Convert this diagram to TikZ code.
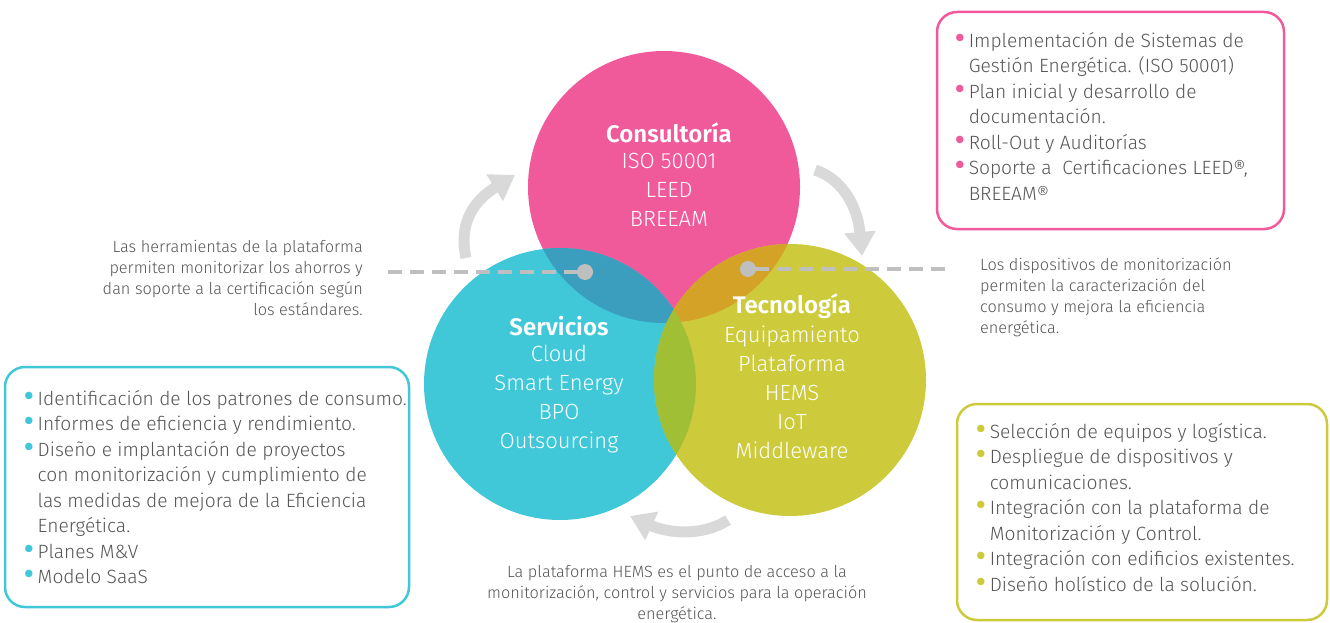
\documentclass[tikz,border=0pt]{standalone}
\usepackage{fontspec}
\setmainfont{Fira Sans}[UprightFont={* Light},BoldFont={* SemiBold}]
\usetikzlibrary{arrows.meta}

\definecolor{pinkc}{HTML}{F05A9B}
\definecolor{cyanc}{HTML}{40C8D9}
\definecolor{yelc}{HTML}{CDCB3C}
\definecolor{pinkcyan}{HTML}{3B9EBE}
\definecolor{pinkyel}{HTML}{D4A226}
\definecolor{cyanyel}{HTML}{A0BF34}
\definecolor{txtgray}{HTML}{555555}
\definecolor{arrgray}{HTML}{D9D9D9}
\definecolor{dashgray}{HTML}{BFBFBF}

\tikzset{
  circtitle/.style={text=white, font=\bfseries\fontsize{24}{29}\selectfont, inner sep=0pt},
  circitems/.style={text=white, font=\fontsize{22}{29}\selectfont, align=center, inner sep=0pt},
  notetext/.style={text=txtgray, font=\fontsize{16.3}{21}\selectfont, inner sep=0pt},
  listbox/.style={draw=#1, line width=2.5pt, rounded corners=20pt},
  listtext/.style={text=txtgray, font=\fontsize{19.2}{25.5}\selectfont, inner sep=0pt, anchor=north west},
  dashline/.style={dashgray, line width=4pt, dash pattern=on 14pt off 8pt},
  turn/.style={arrgray, line width=11pt, -{Triangle[length=24pt, width=30pt]}}
}
\newcommand{\bl}[1]{\textcolor{#1}{\bfseries\fontsize{28}{0}\selectfont\textbullet}}

\begin{document}
\begin{tikzpicture}[x=1pt, y=-1pt]
\useasboundingbox (0,0) rectangle (1330,623);

% circles
\coordinate (cons) at (664,187);
\coordinate (serv) at (560,384);
\coordinate (tecn) at (790,380);
\fill[pinkc] (cons) circle (136);
\fill[cyanc] (serv) circle (136);
\fill[yelc] (tecn) circle (136);

% overlaps
\begin{scope}
  \clip (cons) circle (136);
  \fill[pinkcyan] (serv) circle (136);
  \fill[pinkyel] (tecn) circle (136);
\end{scope}
\begin{scope}
  \clip (serv) circle (136);
  \fill[cyanyel] (tecn) circle (136);
\end{scope}

% circle texts
\node[circtitle] (constitle) at (669,133) {Consultoría};
\node[circitems, anchor=north] (consitems) at (669,153) {ISO 50001\\LEED\\BREEAM};
\node[circtitle] (servtitle) at (559,326) {Servicios};
\node[circitems, anchor=north] (servitems) at (559,345) {Cloud\\Smart Energy\\BPO\\Outsourcing};
\node[circtitle] (tecntitle) at (792,306) {Tecnología};
\node[circitems, anchor=north] (tecnitems) at (792,326) {Equipamiento\\Plataforma\\HEMS\\IoT\\Middleware};

% dashed leaders
\coordinate (ldash) at (388,272);
\coordinate (ldot) at (585,272);
\coordinate (rdash) at (945,269);
\coordinate (rdot) at (748,269);
\draw[dashline] (ldash) -- (ldot);
\draw[dashline] (rdash) -- (rdot);
\fill[dashgray] (ldot) circle (8);
\fill[dashgray] (rdot) circle (8);

% turning arrows
\coordinate (a1s) at (466,258);
\coordinate (a1e) at (515,175);
\coordinate (a2s) at (815,170);
\coordinate (a2e) at (862,256);
\coordinate (a3s) at (728,520);
\coordinate (a3e) at (630,516);
\draw[turn] (a1s) .. controls (458,222) and (475,200) .. (a1e);
\draw[turn] (a2s) .. controls (845,180) and (858,210) .. (a2e);
\draw[turn] (a3s) .. controls (700,538) and (665,532) .. (a3e);

% notes
\node[notetext, align=right, anchor=north east] (lnote) at (363,240)
  {Las herramientas de la plataforma\\permiten monitorizar los ahorros y\\dan soporte a la certificación según\\los estándares.};
\node[notetext, align=left, anchor=north west] (rnote) at (980,258)
  {Los dispositivos de monitorización\\permiten la caracterización del\\consumo y mejora la eficiencia\\energética.};
\node[notetext, align=center, anchor=north] (bnote) at (677,565)
  {La plataforma HEMS es el punto de acceso a la\\monitorización, control y servicios para la operación\\energética.};

% list boxes
\draw[listbox=pinkc] (937,12) rectangle (1284,229);
\node[listtext] (conslist) at (955,29) {%
  \begin{tabular}{@{}l@{\hspace{4pt}}l@{}}
  \bl{pinkc} & Implementación de Sistemas de\\
   & Gestión Energética. (ISO 50001)\\
  \bl{pinkc} & Plan inicial y desarrollo de\\
   & documentación.\\
  \bl{pinkc} & Roll-Out y Auditorías\\
  \bl{pinkc} & Soporte a\ \ Certificaciones LEED®,\\
   & BREEAM®
  \end{tabular}};

\draw[listbox=cyanc] (5,367) rectangle (409,607);
\node[listtext] (servlist) at (24,387) {%
  \begin{tabular}{@{}l@{\hspace{4pt}}l@{}}
  \bl{cyanc} & Identificación de los patrones de consumo.\\
  \bl{cyanc} & Informes de eficiencia y rendimiento.\\
  \bl{cyanc} & Diseño e implantación de proyectos\\
   & con monitorización y cumplimiento de\\
   & las medidas de mejora de la Eficiencia\\
   & Energética.\\
  \bl{cyanc} & Planes M\&V\\
  \bl{cyanc} & Modelo SaaS
  \end{tabular}};

\draw[listbox=yelc] (957,404) rectangle (1327,620);
\node[listtext] (tecnlist) at (976,420) {%
  \begin{tabular}{@{}l@{\hspace{4pt}}l@{}}
  \bl{yelc} & Selección de equipos y logística.\\
  \bl{yelc} & Despliegue de dispositivos y\\
   & comunicaciones.\\
  \bl{yelc} & Integración con la plataforma de\\
   & Monitorización y Control.\\
  \bl{yelc} & Integración con edificios existentes.\\
  \bl{yelc} & Diseño holístico de la solución.
  \end{tabular}};

\end{tikzpicture}
\end{document}
